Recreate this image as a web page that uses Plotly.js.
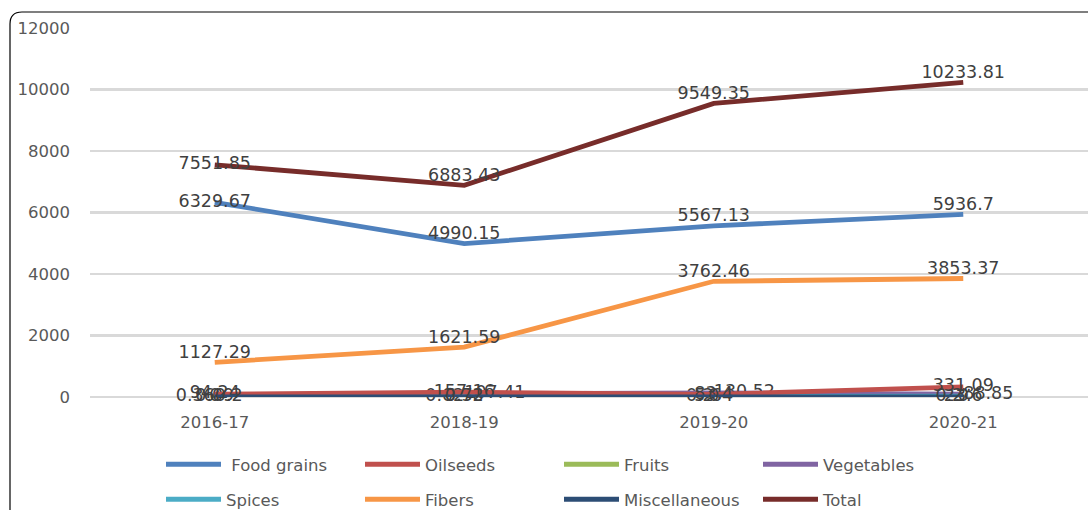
<!DOCTYPE html>
<html><head><meta charset="utf-8">
<script src="https://cdn.plot.ly/plotly-3.0.1.min.js"></script>
<style>body{margin:0;background:#fff}#c{width:1088px;height:510px}</style>
</head><body><div id="c"></div>
<script>
const years = ["2016-17","2018-19","2019-20","2020-21"];
const foodGrains = [6329.67, 4990.15, 5567.13, 5936.7];
const oilseeds = [94.24, 157.16, 83.4, 331.09];
const fruits = [0.36, 0.02, 0.2, 0];
const vegetables = [0.09, 107.41, 130.52, 88.85];
const spices = [0, 6.38, 5.64, 23.6];
const fibers = [1127.29, 1621.59, 3762.46, 3853.37];
const miscellaneous = [0.2, 0.72, 0, 0.2];
const total = [7551.85, 6883.43, 9549.35, 10233.81];

const seriesNames = ["Food grains","Oilseeds","Fruits","Vegetables","Spices","Fibers","Miscellaneous","Total"];
const seriesData = [foodGrains, oilseeds, fruits, vegetables, spices, fibers, miscellaneous, total];
const colors = ["#4f81bd","#c0504d","#9bbb59","#8064a2","#4bacc6","#f79646","#2c4d75","#772c2a"];
const positions = [
  ["middle center","top center","top center","top center"],
  ["middle center","middle center","middle center","middle center"],
  ["middle left","middle left","middle left","middle center"],
  ["middle center","middle right","middle right","middle right"],
  ["middle center","middle center","middle center","middle center"],
  ["top center","top center","top center","top center"],
  ["middle right","middle center","middle center","middle left"],
  ["middle center","top center","top center","top center"]
];
const FONT = "DejaVu Sans, Verdana, sans-serif";
const drawOrder = [0,2,3,4,5,1,6,7];
const traces = drawOrder.map(i=>({
  x: years, y: seriesData[i], name: (i===0?" ":"")+seriesNames[i], type:"scatter", mode:"lines+text",
  text: seriesData[i].map(String), textposition: positions[i],
  textfont:{family:FONT, size:17.5, color:"#404040"},
  line:{color:colors[i], width:4.8}, cliponaxis:false, legendrank: i+1,
  legend: i<4 ? "legend" : "legend2"
}));

const px = v => (v-90)/998, py = v => (397-v)/369;
const framePath = `M ${px(10)},${py(520)} L ${px(10)},${py(24)} Q ${px(10)},${py(12)} ${px(22)},${py(12)} L ${px(1100)},${py(12)}`;
const legCommon = {orientation:"h", xref:"container", yref:"container", x:161/1088, xanchor:"left", yanchor:"top",
  entrywidth:129, entrywidthmode:"pixels", itemwidth:55, traceorder:"normal", bgcolor:"rgba(0,0,0,0)",
  font:{family:FONT, size:16.5, color:"#595959"}};

const layout = {
  width:1088, height:510,
  margin:{l:90, r:0, t:28, b:113},
  paper_bgcolor:"#fff", plot_bgcolor:"#fff",
  font:{family:FONT, color:"#595959"},
  xaxis:{type:"category", range:[-0.5,3.5], showgrid:false, zeroline:false, showline:false, automargin:false,
    ticks:"", tickfont:{size:16.5, color:"#595959"}, ticklabelstandoff:13},
  yaxis:{range:[0,12000], dtick:2000, tickformat:"d", showgrid:true, gridcolor:"#d9d9d9", gridwidth:2.5, automargin:false,
    zeroline:true, zerolinecolor:"#d9d9d9", zerolinewidth:2.5, showline:false,
    tickfont:{size:16.5, color:"#595959"}, ticklabelstandoff:19},
  showlegend:true,
  legend: Object.assign({}, legCommon, {y:(510-447)/510}),
  legend2: Object.assign({}, legCommon, {y:(510-482)/510}),
  shapes:[{type:"path", path:framePath, xref:"paper", yref:"paper", line:{color:"#000", width:1.2}, layer:"above"}]
};
Plotly.newPlot("c", traces, layout, {displayModeBar:false, staticPlot:true});
</script></body></html>
